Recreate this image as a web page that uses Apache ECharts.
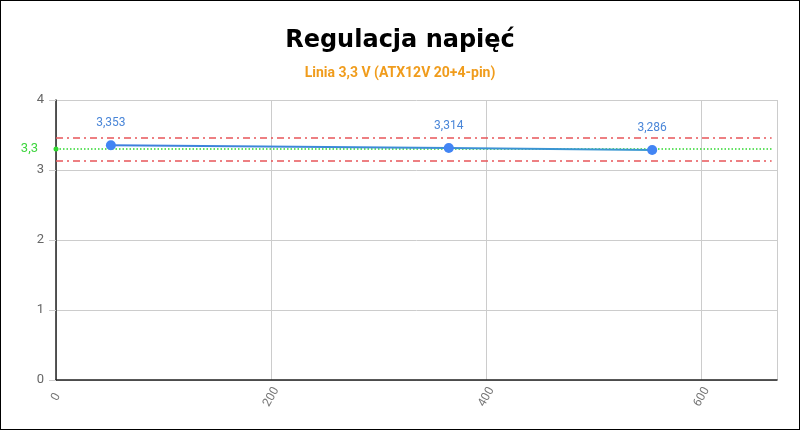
<!DOCTYPE html>
<html>
<head>
<meta charset="utf-8">
<script src="https://cdn.jsdelivr.net/npm/echarts@6/dist/echarts.min.js"></script>
<style>
  html, body { margin: 0; padding: 0; background: #fff; }
  #chart { width: 800px; height: 430px; border: 1px solid #000; box-sizing: border-box; }
</style>
</head>
<body>
<div id="chart"></div>
<script>
// obciazenie (W) i zmierzone napiecie linii 3,3 V
var loadW = [51, 365, 554];
var voltage = [3.353, 3.314, 3.286];
var nominal = 3.3;
var upperLimit = 3.465;
var lowerLimit = 3.135;
var yTicks = [0, 1, 2, 3, 4];
var xTicks = [0, 200, 400, 600];

function comma(v) {
    return String(v).replace('.', ',');
}

var points = loadW.map(function (x, i) { return [x, voltage[i]]; });
var lineEnd = 665;

// pozioma linia referencyjna jako osobna seria
function refLine(value, style, label) {
    return {
        type: 'line',
        data: [],
        markLine: {
            silent: true,
            animation: false,
            symbol: label ? ['circle', 'none'] : ['none', 'none'],
            symbolSize: 5,
            lineStyle: style,
            itemStyle: { color: style.color },
            label: label || { show: false },
            data: [[{ coord: [0, value] }, { coord: [lineEnd, value] }]]
        }
    };
}

var myChart = echarts.init(document.getElementById('chart'));

var option = {
    animation: false,
    title: [
        {
            text: 'Regulacja napięć',
            left: 'center',
            top: 23,
            textStyle: { fontFamily: 'DejaVu Sans', fontWeight: 'bold', fontSize: 24, color: '#000' }
        },
        {
            text: 'Linia 3,3 V (ATX12V 20+4-pin)',
            left: 'center',
            top: 60,
            textStyle: { fontFamily: 'Roboto', fontWeight: 'bold', fontSize: 14, color: '#f09c1c' }
        }
    ],
    grid: {
        left: 55,
        right: 22,
        top: 99,
        bottom: 49,
        containLabel: false
    },
    xAxis: {
        type: 'value',
        min: 0,
        max: 670,
        interval: 200,
        axisLine: { onZero: false, lineStyle: { color: '#222', width: 1.5 } },
        axisTick: { show: false },
        splitLine: { show: true, lineStyle: { color: '#ccc' } },
        axisLabel: {
            rotate: 60,
            margin: 17,
            align: 'center',
            verticalAlign: 'middle',
            color: '#777',
            fontFamily: 'Roboto',
            fontSize: 12,
            showMaxLabel: false,
            formatter: function (v) { return xTicks.indexOf(v) >= 0 ? v : ''; }
        }
    },
    yAxis: {
        type: 'value',
        min: 0,
        max: 4,
        interval: 1,
        axisLine: { show: true, lineStyle: { color: '#222', width: 1.5 } },
        axisTick: { show: true, length: 7, lineStyle: { color: '#ccc' } },
        splitLine: { show: true, lineStyle: { color: '#ccc' } },
        axisLabel: {
            margin: 12,
            color: '#666',
            fontFamily: 'Roboto',
            fontSize: 13,
            formatter: function (v) { return yTicks.indexOf(v) >= 0 ? v : ''; }
        }
    },
    series: [
        refLine(upperLimit, { color: '#e8555a', width: 1.6, type: [7, 4, 2, 4] }),
        refLine(lowerLimit, { color: '#e8555a', width: 1.6, type: [7, 4, 2, 4] }),
        refLine(nominal, { color: '#2fd82f', width: 1.6, type: [1.5, 2] }, {
            show: true,
            position: 'start',
            distance: 18,
            color: '#3ed43e',
            fontFamily: 'Roboto',
            fontSize: 13,
            formatter: comma(nominal)
        }),
        {
            type: 'line',
            data: points,
            symbol: 'circle',
            symbolSize: 10,
            itemStyle: { color: '#4285f4' },
            lineStyle: {
                width: 2,
                color: new echarts.graphic.LinearGradient(0, 0, 1, 0, [
                    { offset: 0, color: '#3f7fde' },
                    { offset: 1, color: '#3a9ad0' }
                ])
            },
            label: {
                show: true,
                position: 'top',
                distance: 11,
                color: '#4a86d8',
                fontFamily: 'Roboto',
                fontSize: 12,
                formatter: function (p) { return comma(p.value[1]); }
            },
            z: 5
        }
    ]
};

myChart.setOption(option);
</script>
</body>
</html>
